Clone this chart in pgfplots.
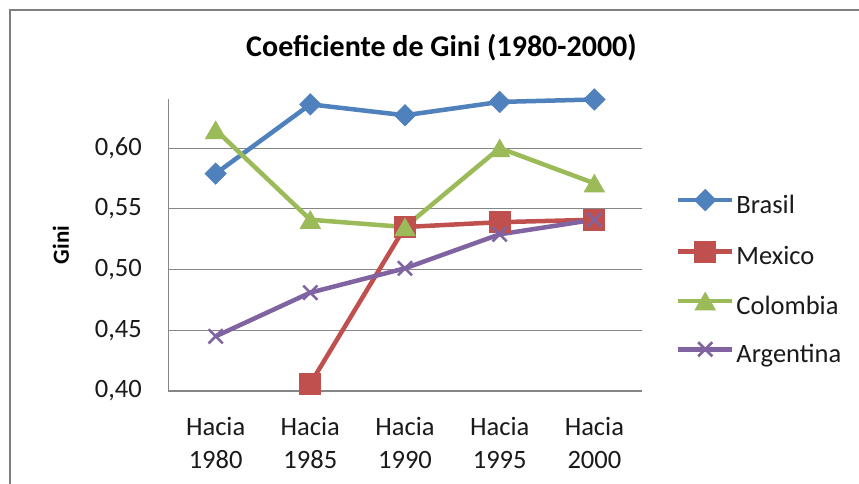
\documentclass[border=0pt]{standalone}
\usepackage{pgfplots}
\pgfplotsset{compat=1.18}
\usepackage{fontspec}
\setmainfont{Carlito}
\definecolor{cBrasil}{HTML}{4F81BD}
\definecolor{cMexico}{HTML}{C0504D}
\definecolor{cColombia}{HTML}{9BBB59}
\definecolor{cArgentina}{HTML}{8064A2}
\definecolor{cGrid}{HTML}{868686}
\definecolor{cText}{HTML}{1A1A1A}
\begin{document}
\begin{tikzpicture}[x=1pt,y=1pt]
\clip (0,0) rectangle (859,484);
\fill[white] (0,0) rectangle (859,484);
\draw[cGrid!95!black, line width=1.6pt] (10,-20) rectangle (900,474);
\begin{axis}[
  at={(168.3pt,93pt)}, anchor=south west,
  scale only axis, width=473.4pt, height=291.5pt,
  xmin=-0.5, xmax=4.5, ymin=0.40, ymax=0.64,
  clip=false,
  axis x line=bottom, axis y line=left,
  axis line style={cGrid, line width=1.1pt, -},
  xtick={0,1,2,3,4},
  xticklabels={{Hacia\\1980},{Hacia\\1985},{Hacia\\1990},{Hacia\\1995},{Hacia\\2000}},
  ytick={0.40,0.45,0.50,0.55,0.60},
  yticklabels={{0,40},{0,45},{0,50},{0,55},{0,60}},
  major tick length=0pt,
  ymajorgrids, grid style={cGrid, line width=1.1pt},
  xticklabel style={font=\fontsize{26.5}{33}\selectfont, align=center, text=cText, yshift=-23pt},
  yticklabel style={font=\fontsize{26.5}{31}\selectfont, text=cText, xshift=-23pt},
  every axis plot/.append style={line width=4.5pt},
  legend cell align=left,
  legend image code/.code={\draw[mark repeat=2,mark phase=2,#1] plot coordinates {(0pt,7pt) (27pt,7pt) (54pt,7pt)};},
  legend style={at={(1.072,0.381)}, anchor=west, draw=none, fill=none, inner sep=0pt,
     font=\fontsize{26.5}{31}\selectfont, text=cText, row sep=20pt,
     nodes={inner sep=2pt, text height=18pt, text depth=6pt}},
]
\addplot[color=cBrasil, mark=square*, mark size=7.4pt, mark options={rotate=45, line width=1pt, fill=cBrasil}]
  coordinates {(0,0.579) (1,0.636) (2,0.627) (3,0.638) (4,0.640)};
\addlegendentry{Brasil}
\addplot[color=cMexico, mark=square*, mark size=10.5pt, mark options={line width=1pt, fill=cMexico}]
  coordinates {(1,0.406) (2,0.535) (3,0.539) (4,0.541)};
\addlegendentry{Mexico}
\addplot[color=cColombia, mark=triangle*, mark size=11.5pt, mark options={line width=1pt, fill=cColombia, yshift=-2.9pt}]
  coordinates {(0,0.615) (1,0.541) (2,0.535) (3,0.600) (4,0.571)};
\addlegendentry{Colombia}
\addplot[color=cArgentina, mark=x, mark size=10pt, mark options={line width=2.5pt}]
  coordinates {(0,0.445) (1,0.481) (2,0.501) (3,0.529) (4,0.541)};
\addlegendentry{Argentina}
\end{axis}
\node[anchor=base, font=\fontsize{30}{36}\selectfont\bfseries, text=black, inner sep=0pt] at (441.5,427) {Coeficiente de Gini (1980-2000)};
\node[rotate=90, font=\fontsize{23}{28}\selectfont\bfseries, text=black, inner sep=0pt] at (61,239) {Gini};
\end{tikzpicture}
\end{document}
